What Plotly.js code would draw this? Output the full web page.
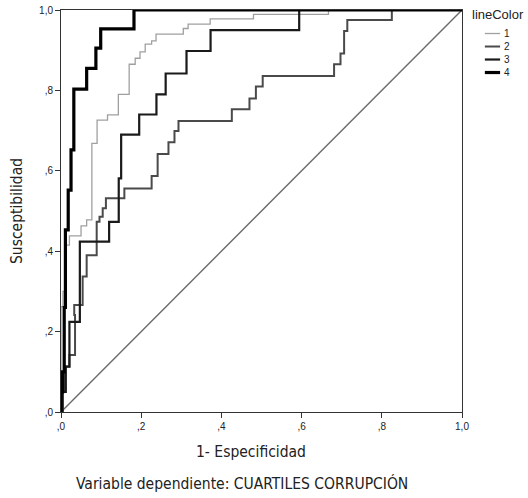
<!DOCTYPE html>
<html>
<head>
<meta charset="utf-8">
<script src="https://cdn.plot.ly/plotly-3.0.1.min.js"></script>
<style>html,body{margin:0;padding:0;background:#fff;}#chart{width:528px;height:498px;}</style>
</head>
<body>
<div id="chart"></div>
<script>
// ROC curve data (FPR = 1 - Especificidad, TPR = Susceptibilidad)
const fpr1 = [0,0,0.005,0.005,0.012,0.012,0.021,0.021,0.05,0.05,0.064,0.064,0.077,0.077,0.09,0.09,0.116,0.116,0.143,0.143,0.17,0.17,0.185,0.185,0.197,0.197,0.21,0.21,0.226,0.226,0.237,0.237,0.305,0.305,0.317,0.317,0.372,0.372,0.48,0.48,0.667,0.667,1];
const tpr1 = [0,0.262,0.262,0.3,0.3,0.415,0.415,0.438,0.438,0.463,0.463,0.478,0.478,0.668,0.668,0.726,0.726,0.739,0.739,0.79,0.79,0.865,0.865,0.88,0.88,0.896,0.896,0.915,0.915,0.923,0.923,0.94,0.94,0.954,0.954,0.965,0.965,0.978,0.978,0.989,0.989,1,1];

const fpr2 = [0,0.004,0.004,0.008,0.008,0.021,0.021,0.035,0.035,0.033,0.033,0.054,0.054,0.064,0.064,0.089,0.089,0.096,0.096,0.104,0.104,0.112,0.112,0.158,0.158,0.226,0.226,0.241,0.241,0.268,0.268,0.283,0.283,0.293,0.293,0.426,0.426,0.47,0.47,0.486,0.486,0.503,0.503,0.681,0.681,0.697,0.697,0.706,0.706,0.714,0.714,0.825,0.825,1];
const tpr2 = [0,0,0.05,0.05,0.113,0.113,0.142,0.142,0.241,0.241,0.266,0.266,0.337,0.337,0.39,0.39,0.473,0.473,0.486,0.486,0.507,0.507,0.532,0.532,0.556,0.556,0.587,0.587,0.642,0.642,0.671,0.671,0.699,0.699,0.724,0.724,0.753,0.753,0.78,0.78,0.81,0.81,0.836,0.836,0.865,0.865,0.892,0.892,0.948,0.948,0.975,0.975,1,1];

const fpr3 = [0,0.004,0.004,0.012,0.012,0.021,0.021,0.047,0.047,0.12,0.12,0.144,0.144,0.15,0.15,0.195,0.195,0.238,0.238,0.261,0.261,0.313,0.313,0.373,0.373,0.594,0.594,1];
const tpr3 = [0,0,0.05,0.05,0.113,0.113,0.224,0.224,0.424,0.424,0.473,0.473,0.581,0.581,0.69,0.69,0.74,0.74,0.79,0.79,0.842,0.842,0.898,0.898,0.95,0.95,1,1];

const fpr4 = [0,0,0.004,0.004,0.008,0.008,0.011,0.011,0.018,0.018,0.025,0.025,0.032,0.032,0.064,0.064,0.087,0.087,0.099,0.099,0.182,0.182,1];
const tpr4 = [0,0.05,0.05,0.1,0.1,0.26,0.26,0.453,0.453,0.552,0.552,0.652,0.652,0.803,0.803,0.855,0.855,0.905,0.905,0.953,0.953,1,1];

const refX = [0,1];
const refY = [0,1];

const seriesNames = ['1','2','3','4'];
const legendTitle = 'lineColor';
const tickVals = [0,0.2,0.4,0.6,0.8,1];
const tickText = [',0',',2',',4',',6',',8','1,0'];
const xTitle = '1- Especificidad';
const yTitle = 'Susceptibilidad';
const footnote = 'Variable dependiente: CUARTILES CORRUPCIÓN';

const colors = ['#a0a0a0','#4a4a4a','#1a1a1a','#000000'];
const widths = [1.3,2,2.2,3.2];
const xs = [fpr1,fpr2,fpr3,fpr4];
const ys = [tpr1,tpr2,tpr3,tpr4];

const traces = [{
  x: refX, y: refY, mode:'lines', showlegend:false, hoverinfo:'skip',
  line:{color:'#6a6a6a', width:1.4}, cliponaxis:false
}];
for (let i=0;i<4;i++){
  traces.push({x:xs[i], y:ys[i], mode:'lines', name:seriesNames[i], showlegend:false,
    line:{color:colors[i], width:widths[i]}, cliponaxis:false});
}

const tickFont = {family:'Liberation Sans, Arial, sans-serif', size:10, color:'#222'};
const titleFont = {family:'DejaVu Sans Condensed, sans-serif', size:15.5, color:'#222'};
const legFont = {family:'Liberation Sans, Arial, sans-serif', size:10, color:'#222'};

// compact legend drawn in paper coordinates (one multi-line text block + line samples)
const legCenter = 0.893;
const legStep = 13/402;
const shapes = [];
for (let i=0;i<seriesNames.length;i++){
  const yy = legCenter + (1.5 - i)*legStep;
  shapes.push({type:'line', xref:'paper', yref:'paper', x0:1.057, x1:1.095, y0:yy, y1:yy,
    line:{color:colors[i], width:widths[i]}});
}
const annotations = [
  {text:legendTitle, xref:'paper', yref:'paper', x:1.02, y:0.99, xanchor:'left', yanchor:'middle', showarrow:false, font:{...legFont, size:13}},
  {text:seriesNames.join('<br>'), xref:'paper', yref:'paper', x:1.1, y:legCenter, xanchor:'left', yanchor:'middle',
    align:'left', showarrow:false, font:legFont},
  {text:xTitle, xref:'paper', yref:'paper', x:0.474, y:-0.1, xanchor:'center', yanchor:'middle', showarrow:false, font:titleFont},
  {text:footnote, xref:'paper', yref:'paper', x:0.451, y:-0.177, xanchor:'center', yanchor:'middle', showarrow:false, font:titleFont}
];

const layout = {
  width:528, height:498,
  margin:{l:61, r:66, t:10, b:86},
  paper_bgcolor:'#fff', plot_bgcolor:'#fff',
  showlegend:false,
  xaxis:{
    range:[0,1], tickvals:tickVals, ticktext:tickText, ticks:'outside', ticklen:5,
    tickcolor:'#333', showgrid:false, zeroline:false, showline:true, linecolor:'#333', linewidth:1,
    mirror:true, tickfont:tickFont, fixedrange:true
  },
  yaxis:{
    range:[0,1], tickvals:tickVals, ticktext:tickText, ticks:'outside', ticklen:5,
    tickcolor:'#333', showgrid:false, zeroline:false, showline:true, linecolor:'#333', linewidth:1,
    mirror:true, tickfont:tickFont, fixedrange:true,
    title:{text:yTitle, font:titleFont, standoff:12}
  },
  shapes: shapes,
  annotations: annotations
};

Plotly.newPlot('chart', traces, layout, {displayModeBar:false, staticPlot:true});
</script>
</body>
</html>
